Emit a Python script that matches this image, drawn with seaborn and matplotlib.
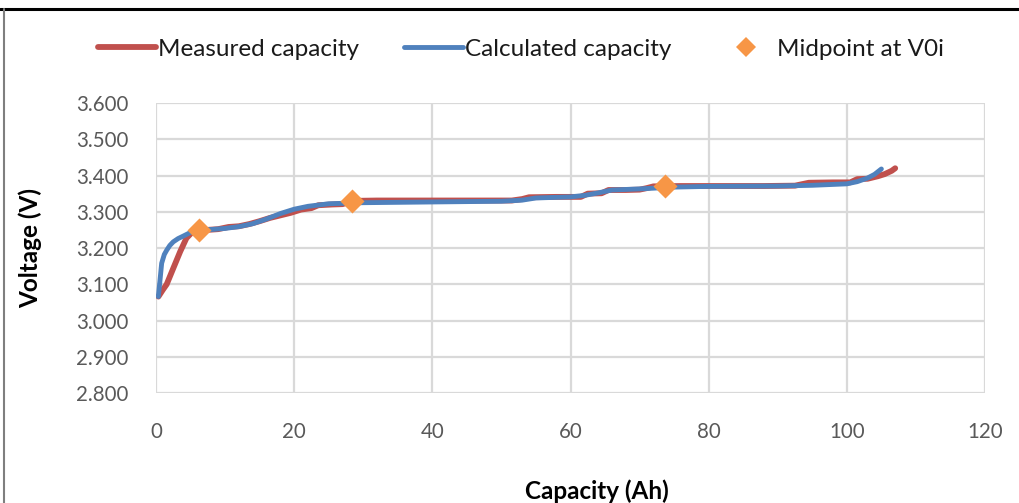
import matplotlib
matplotlib.use("Agg")
import matplotlib.pyplot as plt
from matplotlib.lines import Line2D
import pandas as pd
import seaborn as sns

# Measured discharge curve (capacity in Ah, voltage in V)
meas_cap = [0.35, 1.0, 1.55, 2.5, 3.5, 4.4, 5.2, 6.1, 7.5, 9.0, 10.5, 12.0, 13.5,
            15.0, 16.5, 18.0, 19.5, 21.0, 22.5, 23.5, 25.5, 27.0, 28.5, 32.0, 36.0,
            40.0, 44.0, 48.0, 51.5, 53.0, 54.0, 58.0, 61.5, 62.5, 64.5, 65.5, 68.0,
            70.0, 71.0, 72.0, 76.0, 80.0, 84.0, 88.0, 92.5, 93.5, 94.5, 98.0, 100.5,
            101.5, 103.0, 104.5, 105.5, 106.5, 107.0]
meas_v = [3.066, 3.085, 3.100, 3.144, 3.190, 3.227, 3.243, 3.250, 3.250, 3.252, 3.258,
          3.260, 3.266, 3.274, 3.283, 3.290, 3.297, 3.306, 3.310, 3.318, 3.320, 3.321,
          3.330, 3.331, 3.331, 3.331, 3.331, 3.331, 3.331, 3.335, 3.340, 3.341, 3.341,
          3.350, 3.351, 3.360, 3.360, 3.361, 3.365, 3.370, 3.371, 3.371, 3.371, 3.371,
          3.372, 3.376, 3.380, 3.381, 3.381, 3.390, 3.391, 3.398, 3.404, 3.413, 3.420]

# Model-calculated curve
calc_cap = [0.34, 0.6, 0.82, 1.2, 1.55, 2.0, 2.5, 3.2, 3.96, 4.9, 5.9, 8.0, 10.0, 12.0,
            14.0, 16.0, 18.0, 20.0, 22.0, 25.0, 30.0, 40.0, 50.0, 53.0, 55.0, 60.0,
            62.0, 64.0, 66.0, 70.0, 75.0, 80.0, 90.0, 95.0, 100.0, 101.5, 103.0, 104.0,
            105.0]
calc_v = [3.066, 3.115, 3.158, 3.182, 3.194, 3.207, 3.217, 3.226, 3.233, 3.242, 3.250,
          3.251, 3.254, 3.259, 3.267, 3.280, 3.295, 3.307, 3.315, 3.322, 3.325, 3.327,
          3.329, 3.332, 3.338, 3.341, 3.345, 3.352, 3.360, 3.363, 3.368, 3.370, 3.371,
          3.373, 3.377, 3.383, 3.393, 3.403, 3.418]

# Midpoints at V0i
mid_cap = [6.2, 28.3, 73.7]
mid_v = [3.250, 3.330, 3.370]

x_ticks = [0, 20, 40, 60, 80, 100, 120]
y_ticks = [2.8, 2.9, 3.0, 3.1, 3.2, 3.3, 3.4, 3.5, 3.6]

RED = "#C0504D"
BLUE = "#4F81BD"
ORANGE = "#F79646"
GRID = "#D9D9D9"
TICK = "#595959"

sns.set_theme(style="white")
plt.rcParams["font.family"] = ["Lato", "DejaVu Sans"]

fig = plt.figure(figsize=(10.19, 5.03), dpi=100)
ax = fig.add_axes([156 / 1019, 1 - 393 / 503, (985 - 156) / 1019, (393 - 103) / 503])

meas = pd.DataFrame({"cap": meas_cap, "v": meas_v})
calc = pd.DataFrame({"cap": calc_cap, "v": calc_v})
mid = pd.DataFrame({"cap": mid_cap, "v": mid_v})

sns.lineplot(data=meas, x="cap", y="v", ax=ax, color=RED, linewidth=4.2,
             sort=False, estimator=None, solid_capstyle="round", solid_joinstyle="round")
sns.lineplot(data=calc, x="cap", y="v", ax=ax, color=BLUE, linewidth=3.5,
             sort=False, estimator=None, solid_capstyle="round", solid_joinstyle="round")
sns.scatterplot(data=mid, x="cap", y="v", ax=ax, color=ORANGE, marker="D",
                s=150, linewidth=0, zorder=5)

ax.set_xlim(0, 120)
ax.set_ylim(2.8, 3.6)
ax.set_xticks(x_ticks)
ax.set_yticks(y_ticks)
ax.set_xticklabels([str(t) for t in x_ticks])
ax.set_yticklabels([f"{t:.3f}" for t in y_ticks])
ax.grid(True, color=GRID, linewidth=1.6)
ax.set_axisbelow(True)
for s in ax.spines.values():
    s.set_visible(False)
ax.tick_params(axis="both", length=0, labelsize=14.8, labelcolor=TICK)
ax.tick_params(axis="x", pad=21)
ax.tick_params(axis="y", pad=20)
ax.set_xlabel("")
ax.set_ylabel("")

fig.text(30 / 1019, 1 - 248 / 503, "Voltage (V)", rotation=90, ha="center",
         va="center", fontsize=17.5, fontweight="bold", color="black")
fig.text(597 / 1019, 1 - 491 / 503, "Capacity (Ah)", ha="center", va="center",
         fontsize=17.5, fontweight="bold", color="black")

handles = [
    Line2D([], [], color=RED, linewidth=4.2),
    Line2D([], [], color=BLUE, linewidth=3.5),
    Line2D([], [], color=ORANGE, marker="D", linestyle="none", markersize=10,
           markeredgewidth=0),
]
labels = ["Measured capacity", "Calculated capacity", "Midpoint at V0i"]
fig.legend(handles, labels, loc="center", bbox_to_anchor=(521 / 1019, 1 - 49 / 503),
           ncol=3, frameon=False, fontsize=17.5, handlelength=2.4, handletextpad=0.1,
           columnspacing=1.85, labelcolor="#1a1a1a")

# outer frame edges
fig.add_artist(Line2D([0, 1], [1 - 9 / 503, 1 - 9 / 503], color="black", linewidth=2.2,
                      transform=fig.transFigure))
fig.add_artist(Line2D([4 / 1019, 4 / 1019], [0, 1 - 9 / 503], color="#7F7F7F",
                      linewidth=1.5, transform=fig.transFigure))

fig.savefig("out.png", dpi=100, facecolor="white")
